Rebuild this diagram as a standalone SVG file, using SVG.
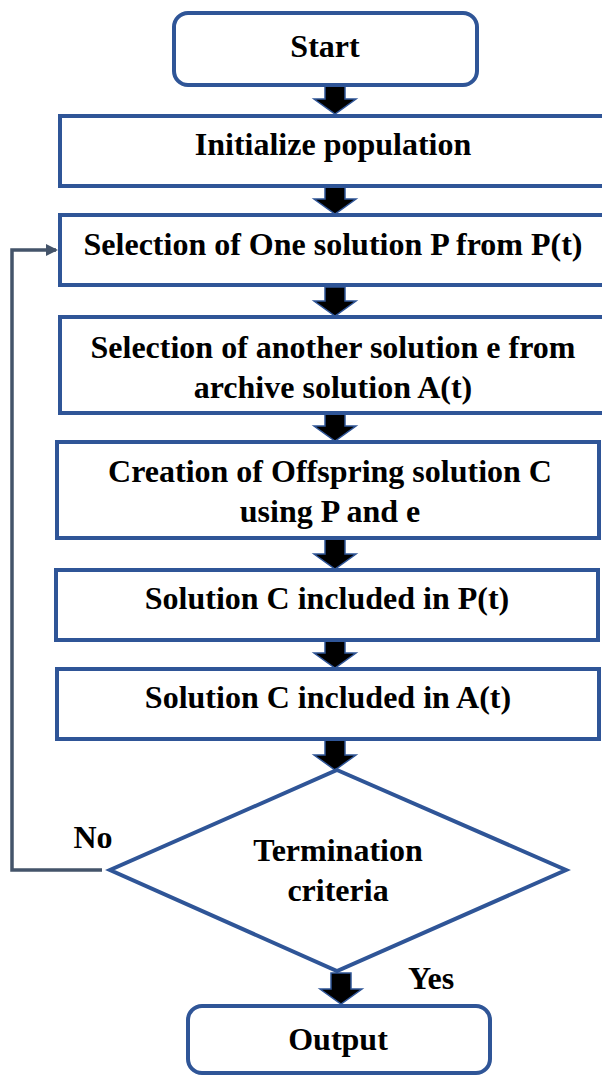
<svg xmlns="http://www.w3.org/2000/svg" width="602" height="1076" viewBox="0 0 602 1076">
<style>
.box{fill:#fff;stroke:#2F5597;stroke-width:4}
.t{font-family:"Liberation Serif","Times New Roman",serif;font-weight:bold;font-size:32px;fill:#000;text-anchor:middle}
.blk{fill:#000;stroke:#2F5597;stroke-width:1.5;stroke-linejoin:miter}
.fb{fill:none;stroke:#44546A;stroke-width:3.5}
</style>
<defs>
<marker id="ah" markerWidth="12" markerHeight="12" refX="10" refY="6" orient="auto" markerUnits="userSpaceOnUse">
<path d="M0,0 L12,6 L0,12 Z" fill="#44546A"/>
</marker>
</defs>
<rect width="602" height="1076" fill="#fff"/>
<g id="connectors">
<path class="blk" d="M325,86 h20 v13 h11 l-21,15 l-21,-15 h11 z"/>
<path class="blk" d="M325,187 h20 v12 h11 l-21,15 l-21,-15 h11 z"/>
<path class="blk" d="M325,287 h20 v14 h11 l-21,15 l-21,-15 h11 z"/>
<path class="blk" d="M325,414 h20 v12 h11 l-21,15 l-21,-15 h11 z"/>
<path class="blk" d="M325,539 h20 v15 h11 l-21,15 l-21,-15 h11 z"/>
<path class="blk" d="M325,641 h20 v12 h11 l-21,15 l-21,-15 h11 z"/>
<path class="blk" d="M325,740 h20 v15 h11 l-21,15 l-21,-15 h11 z"/>
<path class="blk" d="M331,973 h20 v16 h11 l-21,15 l-21,-15 h11 z"/>
<polyline class="fb" points="102,870 12,870 12,250 56,250" marker-end="url(#ah)"/>
</g>
<g id="start"><rect class="box" x="174" y="13" width="303" height="72" rx="14"/><text class="t" x="325" y="57">Start</text></g>
<g id="init"><rect class="box" x="60" y="116" width="550" height="70"/><text class="t" x="333" y="155">Initialize population</text></g>
<g id="selP"><rect class="box" x="60" y="215" width="550" height="70"/><text class="t" x="333" y="255">Selection of One solution P from P(t)</text></g>
<g id="selE"><rect class="box" x="60" y="317" width="550" height="96"/><text class="t" x="333" y="358">Selection of another solution e from</text><text class="t" x="333" y="398">archive solution A(t)</text></g>
<g id="create"><rect class="box" x="57" y="442" width="542" height="96"/><text class="t" x="330" y="482">Creation of Offspring solution C</text><text class="t" x="330" y="522">using P and e</text></g>
<g id="solP"><rect class="box" x="56" y="570" width="542" height="70"/><text class="t" x="327" y="609">Solution C included in P(t)</text></g>
<g id="solA"><rect class="box" x="57" y="669" width="542" height="70"/><text class="t" x="328" y="708">Solution C included in A(t)</text></g>
<g id="decision"><polygon class="box" points="337,770 566,870 337,971 110,870"/><text class="t" x="338" y="861">Termination</text><text class="t" x="338" y="901">criteria</text></g>
<g id="labels"><text class="t" x="93" y="848">No</text><text class="t" x="431" y="989">Yes</text></g>
<g id="output"><rect class="box" x="188" y="1006" width="302" height="67" rx="14"/><text class="t" x="338" y="1050">Output</text></g>
</svg>
